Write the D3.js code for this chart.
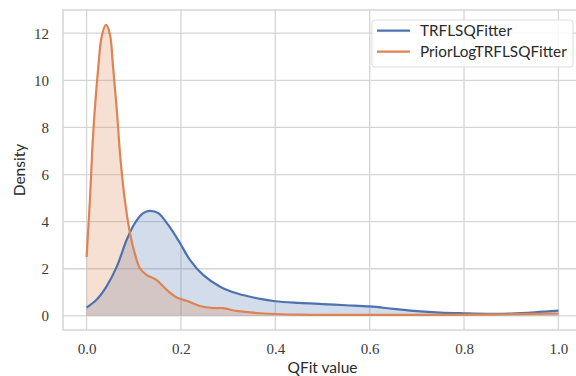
<!DOCTYPE html>
<html>
<head>
<meta charset="utf-8">
<script src="https://cdn.jsdelivr.net/npm/d3@7"></script>
<style>
  html, body { margin: 0; padding: 0; background: #ffffff; }
  svg { display: block; }
</style>
</head>
<body>
<svg id="chart" width="576" height="376"></svg>
<script>
// KDE curves of QFit values for two fitters (density estimated on [0, 1])
const seriesNames = ["TRFLSQFitter", "PriorLogTRFLSQFitter"];
const seriesColors = ["#4C72B0", "#DD8452"];

const trfQfit = [0, 0.021, 0.042, 0.064, 0.085, 0.102, 0.12, 0.134, 0.152, 0.173, 0.198, 0.219, 0.247, 0.283, 0.318, 0.368, 0.4, 0.45, 0.5, 0.55, 0.6, 0.65, 0.7, 0.75, 0.8, 0.85, 0.9, 0.95, 1.0];
const trfDensity = [0.35, 0.68, 1.24, 2.09, 3.23, 3.93, 4.36, 4.46, 4.36, 3.86, 3.09, 2.38, 1.74, 1.24, 0.96, 0.72, 0.62, 0.55, 0.50, 0.45, 0.40, 0.30, 0.20, 0.14, 0.11, 0.09, 0.10, 0.15, 0.22];

const priorQfit = [0, 0.007, 0.014, 0.025, 0.032, 0.041, 0.049, 0.056, 0.064, 0.072, 0.081, 0.092, 0.102, 0.113, 0.127, 0.148, 0.17, 0.191, 0.212, 0.24, 0.269, 0.29, 0.318, 0.368, 0.45, 0.6, 0.8, 0.9, 1.0];
const priorDensity = [2.5, 4.9, 7.75, 10.6, 11.86, 12.35, 12.0, 10.6, 8.74, 6.62, 4.92, 3.51, 2.66, 2.02, 1.74, 1.53, 1.10, 0.78, 0.64, 0.42, 0.33, 0.33, 0.21, 0.11, 0.05, 0.04, 0.05, 0.07, 0.10];

const xTicks = [0, 0.2, 0.4, 0.6, 0.8, 1.0];
const yTicks = [0, 2, 4, 6, 8, 10, 12];
const xLabel = "QFit value";
const yLabel = "Density";

const series = [
  { name: seriesNames[0], color: seriesColors[0], pts: trfQfit.map((x, i) => [x, trfDensity[i]]) },
  { name: seriesNames[1], color: seriesColors[1], pts: priorQfit.map((x, i) => [x, priorDensity[i]]) }
];

const svg = d3.select("#chart");
const plotLeft = 63, plotTop = 10, plotRight = 582, plotBottom = 330;

const x = d3.scaleLinear().domain([-0.05, 1.05]).range([plotLeft, plotRight]);
const y = d3.scaleLinear().domain([-0.6, 12.985]).range([plotBottom, plotTop]);

const gridColor = "#d5d5d5";
const serif = "'Liberation Serif', 'DejaVu Serif', serif";
const sans = "Lato, 'Open Sans', sans-serif";

// Grid
const grid = svg.append("g");
grid.selectAll("line.gx").data(xTicks).join("line")
  .attr("x1", d => x(d)).attr("x2", d => x(d))
  .attr("y1", plotTop).attr("y2", plotBottom)
  .attr("stroke", gridColor).attr("stroke-width", 1.3);
grid.selectAll("line.gy").data(yTicks).join("line")
  .attr("x1", plotLeft).attr("x2", plotRight)
  .attr("y1", d => y(d)).attr("y2", d => y(d))
  .attr("stroke", gridColor).attr("stroke-width", 1.3);

// Frame
svg.append("rect")
  .attr("x", plotLeft).attr("y", plotTop)
  .attr("width", plotRight - plotLeft).attr("height", plotBottom - plotTop)
  .attr("fill", "none").attr("stroke", gridColor).attr("stroke-width", 1.5);

// Areas then lines
const area = d3.area().x(d => x(d[0])).y0(y(0)).y1(d => y(d[1])).curve(d3.curveCatmullRom.alpha(0.5));
const line = d3.line().x(d => x(d[0])).y(d => y(d[1])).curve(d3.curveCatmullRom.alpha(0.5));

svg.append("g").selectAll("path").data(series).join("path")
  .attr("d", d => area(d.pts))
  .attr("fill", d => d.color).attr("fill-opacity", 0.25).attr("stroke", "none");

svg.append("g").selectAll("path").data(series).join("path")
  .attr("d", d => line(d.pts))
  .attr("fill", "none").attr("stroke", d => d.color)
  .attr("stroke-width", 2.2).attr("stroke-linejoin", "round").attr("stroke-linecap", "butt");

// Axes (labels only, no tick marks)
const xAxis = d3.axisBottom(x).tickValues(xTicks).tickFormat(d3.format(".1f")).tickSize(0).tickPadding(13);
const gx = svg.append("g").attr("transform", `translate(0,${plotBottom})`).call(xAxis);
gx.select(".domain").remove();
gx.selectAll("text").attr("font-family", serif).attr("font-size", 15).attr("fill", "#3a3a3a");

const yAxis = d3.axisLeft(y).tickValues(yTicks).tickFormat(d3.format("d")).tickSize(0).tickPadding(14);
const gy = svg.append("g").attr("transform", `translate(${plotLeft},0)`).call(yAxis);
gy.select(".domain").remove();
gy.selectAll("text").attr("font-family", serif).attr("font-size", 15).attr("fill", "#3a3a3a");

svg.append("text")
  .attr("x", (plotLeft + plotRight) / 2).attr("y", 373)
  .attr("text-anchor", "middle")
  .attr("font-family", sans).attr("font-size", 15.5).attr("fill", "#2a2a2a")
  .text(xLabel);

svg.append("text")
  .attr("transform", `translate(25,${(plotTop + plotBottom) / 2}) rotate(-90)`)
  .attr("text-anchor", "middle")
  .attr("font-family", sans).attr("font-size", 15.5).attr("fill", "#2a2a2a")
  .text(yLabel);

// Legend
const lg = svg.append("g");
lg.append("rect")
  .attr("x", 372).attr("y", 20).attr("width", 201).attr("height", 47).attr("rx", 3)
  .attr("fill", "#ffffff").attr("fill-opacity", 0.85)
  .attr("stroke", "#dddddd").attr("stroke-width", 1);
const items = lg.selectAll("g.item").data(series).join("g")
  .attr("transform", (d, i) => `translate(0,${30.7 + i * 21})`);
items.append("line")
  .attr("x1", 377).attr("x2", 410).attr("y1", 0).attr("y2", 0)
  .attr("stroke", d => d.color).attr("stroke-width", 2.2);
items.append("text")
  .attr("x", 420).attr("y", 0).attr("dy", "0.35em")
  .attr("font-family", sans).attr("font-size", 15.3).attr("fill", "#2a2a2a")
  .text(d => d.name);
</script>
</body>
</html>
